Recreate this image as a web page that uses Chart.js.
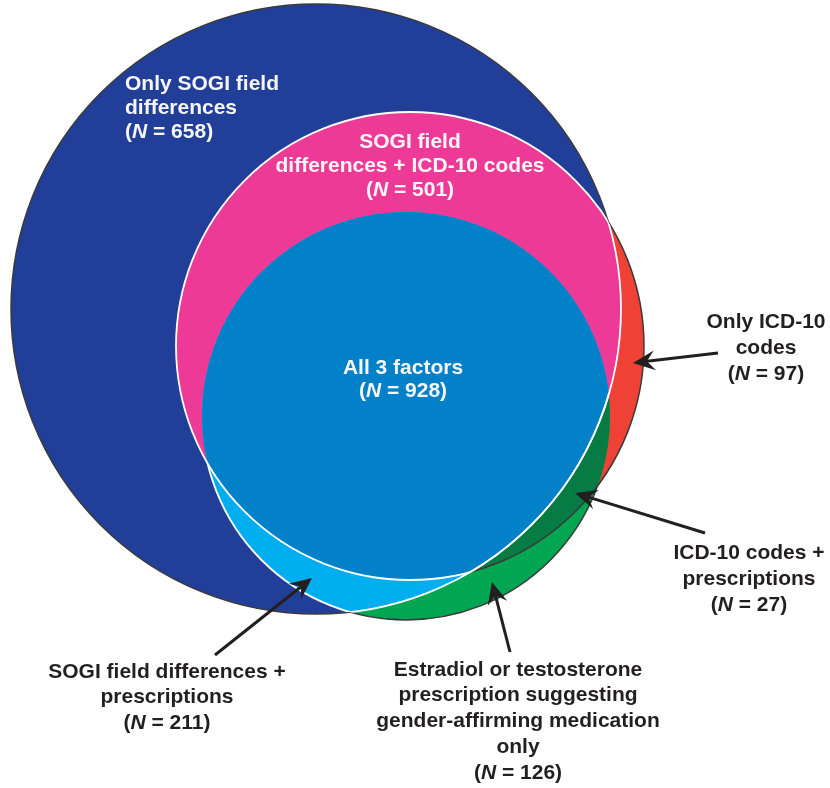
<!DOCTYPE html>
<html>
<head>
<meta charset="utf-8">
<script src="https://cdn.jsdelivr.net/npm/chart.js@4/dist/chart.umd.min.js"></script>
<style>
  html, body { margin: 0; padding: 0; background: #ffffff; }
  #wrap { width: 830px; height: 788px; position: relative; }
</style>
</head>
<body>
<div id="wrap"><canvas id="c"></canvas></div>
<script>
// ---------------- data ----------------
const setNames = ['SOGI field differences', 'ICD-10 codes', 'Prescriptions'];

const regionLabels = [
  ['Only SOGI field', 'differences'],
  ['SOGI field', 'differences + ICD-10 codes'],
  ['All 3 factors'],
  ['Only ICD-10', 'codes'],
  ['ICD-10 codes +', 'prescriptions'],
  ['SOGI field differences +', 'prescriptions'],
  ['Estradiol or testosterone', 'prescription suggesting', 'gender-affirming medication', 'only']
];
const regionCounts = [658, 501, 928, 97, 27, 211, 126];

// ---------------- layout (data-space coordinates, 0..830 x 0..788) ----------------
const circleLayout = [
  { x: 316, y: 309, r: 305 },   // SOGI
  { x: 410, y: 346, r: 234 },   // ICD-10
  { x: 406, y: 416, r: 204 }    // Prescriptions
];
const labelLayout = [
  { x: 125, y: 84,  lh: 24,   align: 'left',   color: '#f6f6f6' },
  { x: 410, y: 142, lh: 24,   align: 'center', color: '#f6f6f6' },
  { x: 403, y: 368, lh: 23,   align: 'center', color: '#f6f6f6' },
  { x: 766, y: 322, lh: 26,   align: 'center', color: '#231f20' },
  { x: 749, y: 553, lh: 26,   align: 'center', color: '#231f20' },
  { x: 167, y: 672, lh: 25.5, align: 'center', color: '#231f20' },
  { x: 518, y: 670, lh: 25.7, align: 'center', color: '#231f20' }
];
const arrowLayout = [
  null, null, null,
  { from: [718, 353], to: [633, 363] },
  { from: [705, 533], to: [575, 493] },
  { from: [215, 655], to: [312, 578] },
  { from: [510, 652], to: [492, 582] }
];
const colors = {
  sogiOnly: '#213f98',
  icdOnly: '#ef4136',
  prescOnly: '#00a651',
  icdPresc: '#067c44',
  sogiIcd: '#ee3a97',
  sogiPresc: '#00aeef',
  all3: '#0381c8',
  outline: '#3a3a3a',
  white: '#ffffff',
  ink: '#231f20'
};
const FONT = '"Liberation Sans", Arial, Helvetica, sans-serif';

// ---------------- drawing plugin ----------------
const vennPlugin = {
  id: 'venn',
  afterDatasetsDraw(chart) {
    const ctx = chart.ctx;
    const xs = chart.scales.x, ys = chart.scales.y;
    const W = chart.width, H = chart.height;
    const px = v => xs.getPixelForValue(v);
    const py = v => ys.getPixelForValue(v);
    const C = circleLayout.map(c => ({
      x: px(c.x), y: py(c.y), r: Math.abs(px(c.x + c.r) - px(c.x))
    }));
    const [S, I, P] = C;

    const path = c => { ctx.beginPath(); ctx.arc(c.x, c.y, c.r, 0, Math.PI * 2); };
    const fill = (c, col) => { path(c); ctx.fillStyle = col; ctx.fill(); };
    const stroke = (c, col, w) => { path(c); ctx.strokeStyle = col; ctx.lineWidth = w; ctx.stroke(); };
    const clipIn = c => { path(c); ctx.clip(); };
    const clipOut = c => {
      ctx.beginPath();
      ctx.rect(-10, -10, W + 20, H + 20);
      ctx.moveTo(c.x + c.r, c.y);
      ctx.arc(c.x, c.y, c.r, 0, Math.PI * 2, true);
      ctx.clip('evenodd');
    };

    ctx.save();
    // regions
    fill(I, colors.icdOnly);
    fill(P, colors.prescOnly);
    ctx.save(); clipIn(I); fill(P, colors.icdPresc); ctx.restore();
    fill(S, colors.sogiOnly);
    ctx.save();
    clipIn(S);
    fill(I, colors.sogiIcd);
    fill(P, colors.sogiPresc);
    clipIn(I);
    fill(P, colors.all3);
    ctx.restore();

    // dark outer outlines
    ctx.save(); clipOut(I); clipOut(P); stroke(S, colors.outline, 1.5); ctx.restore();
    ctx.save(); clipOut(S); stroke(I, colors.outline, 1.5); ctx.restore();
    ctx.save(); clipOut(S); clipOut(I); stroke(P, colors.outline, 1.5); ctx.restore();

    // white inner borders
    ctx.save(); clipIn(I); stroke(S, colors.white, 1.8); ctx.restore();
    ctx.save(); clipIn(P); stroke(S, colors.white, 1.8); ctx.restore();
    ctx.save(); clipIn(S); stroke(I, colors.white, 1.8); ctx.restore();
    ctx.save(); clipIn(S); clipOut(I); stroke(P, colors.white, 1.8); ctx.restore();

    // arrows
    arrowLayout.forEach(a => {
      if (!a) return;
      const x1 = px(a.from[0]), y1 = py(a.from[1]);
      const x2 = px(a.to[0]), y2 = py(a.to[1]);
      const ang = Math.atan2(y2 - y1, x2 - x1);
      const L = 22, hw = 10, notch = 14;
      const bx = x2 - Math.cos(ang) * notch, by = y2 - Math.sin(ang) * notch;
      ctx.beginPath();
      ctx.moveTo(x1, y1);
      ctx.lineTo(bx, by);
      ctx.strokeStyle = colors.ink;
      ctx.lineWidth = 3;
      ctx.stroke();
      const cx = x2 - Math.cos(ang) * L, cy = y2 - Math.sin(ang) * L;
      const nx = -Math.sin(ang), ny = Math.cos(ang);
      ctx.beginPath();
      ctx.moveTo(x2, y2);
      ctx.lineTo(cx + nx * hw, cy + ny * hw);
      ctx.lineTo(bx, by);
      ctx.lineTo(cx - nx * hw, cy - ny * hw);
      ctx.closePath();
      ctx.fillStyle = colors.ink;
      ctx.fill();
    });

    // labels
    ctx.textBaseline = 'middle';
    const bold = 'bold 21px ' + FONT;
    const boldIt = 'italic bold 21px ' + FONT;
    regionLabels.forEach((lines, i) => {
      const L = labelLayout[i];
      const x = px(L.x);
      ctx.fillStyle = L.color;
      ctx.font = bold;
      lines.forEach((t, k) => {
        const y = py(L.y + k * L.lh);
        ctx.textAlign = L.align;
        ctx.fillText(t, x, y);
      });
      // (N = count) line
      const y = py(L.y + lines.length * L.lh);
      const parts = [['(', bold], ['N', boldIt], [' = ' + regionCounts[i] + ')', bold]];
      let total = 0;
      parts.forEach(p => { ctx.font = p[1]; total += ctx.measureText(p[0]).width; });
      let sx = L.align === 'left' ? x : x - total / 2;
      ctx.textAlign = 'left';
      parts.forEach(p => {
        ctx.font = p[1];
        ctx.fillText(p[0], sx, y);
        sx += ctx.measureText(p[0]).width;
      });
    });
    ctx.restore();
  }
};

new Chart(document.getElementById('c'), {
  type: 'scatter',
  data: {
    datasets: [{
      label: 'Set centres',
      data: circleLayout.map((c, i) => ({ x: c.x, y: c.y, name: setNames[i] })),
      pointRadius: 0,
      pointHoverRadius: 0
    }]
  },
  options: {
    responsive: true,
    maintainAspectRatio: false,
    animation: false,
    layout: { padding: 0 },
    plugins: { legend: { display: false }, tooltip: { enabled: false } },
    events: [],
    scales: {
      x: { type: 'linear', min: 0, max: 830, display: false },
      y: { type: 'linear', min: 0, max: 788, reverse: true, display: false }
    }
  },
  plugins: [vennPlugin]
});
</script>
</body>
</html>
